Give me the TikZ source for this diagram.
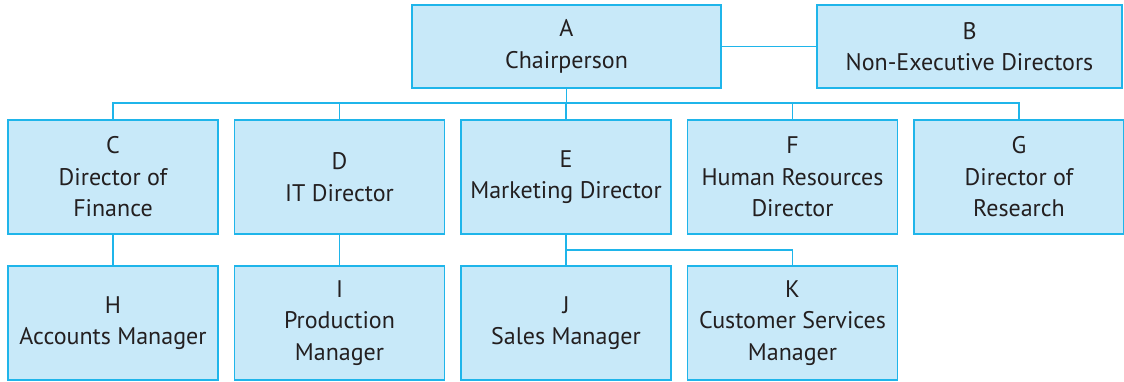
\documentclass[tikz,border=0pt]{standalone}
\usepackage{fontspec}
\setmainfont{PT Sans}
\definecolor{boxfill}{HTML}{C8E9F9}
\definecolor{boxline}{HTML}{1FB5EA}
\definecolor{txt}{HTML}{231F20}
\begin{document}
\begin{tikzpicture}[x=1pt,y=-1pt,
  orgbox/.style={draw=boxline,fill=boxfill,line width=1.3pt,minimum width=210pt,minimum height=114pt,
    inner sep=0pt,align=center,text=txt,font=\fontsize{24}{31.5}\selectfont},
  conn/.style={draw=boxline,line width=1.3pt}]
\useasboundingbox (0,0) rectangle (1124,381);
\node[orgbox,minimum width=309pt,minimum height=83pt] (A) at (566.5,46.5) {A\\Chairperson};
\node[orgbox,minimum width=305pt,minimum height=83pt] (B) at (969.5,46.5) {B\\Non-Executive Directors};
\node[orgbox] (C) at (113,177) {C\\Director of\\Finance};
\node[orgbox] (D) at (339.5,177) {D\\IT Director};
\node[orgbox] (E) at (566,177) {E\\Marketing Director};
\node[orgbox] (F) at (792.5,177) {F\\Human Resources\\Director};
\node[orgbox] (G) at (1019,177) {G\\Director of\\Research};
\node[orgbox] (H) at (113,323) {H\\Accounts Manager};
\node[orgbox] (I) at (339.5,323) {I\\Production\\Manager};
\node[orgbox] (J) at (566,323) {J\\Sales Manager};
\node[orgbox] (K) at (792.5,323) {K\\Customer Services\\Manager};
\coordinate (bus) at (566.5,103);
\coordinate (ej) at (566,250);
\draw[conn] (A.east) -- (B.west);
\draw[conn] (A.south) -- (bus);
\draw[conn] (C.north) |- (bus);
\draw[conn] (D.north) |- (bus);
\draw[conn] (E.north) |- (bus);
\draw[conn] (F.north) |- (bus);
\draw[conn] (G.north) |- (bus);
\draw[conn] (C.south) -- (H.north);
\draw[conn] (D.south) -- (I.north);
\draw[conn] (E.south) -- (J.north);
\draw[conn] (ej) -| (K.north);
\end{tikzpicture}
\end{document}
